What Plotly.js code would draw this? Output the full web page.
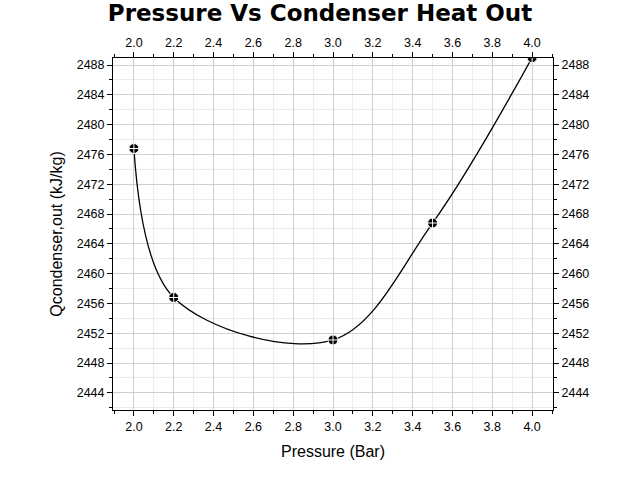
<!DOCTYPE html>
<html>
<head>
<script src="https://cdn.plot.ly/plotly-3.0.1.min.js"></script>
<style>body{margin:0}</style>
</head>
<body>
<div id="chart" style="width:640px;height:490px"></div>
<script>
const pressure = [2.0, 2.2, 3.0, 3.5, 4.0];
const heatOut = [2476.8, 2456.8, 2451.1, 2466.8, 2489.0];

const font = { family: 'Liberation Sans, Arial, sans-serif', color: '#000' };
const axisBase = {
    showline: true, linecolor: '#000', linewidth: 1,
    ticks: 'outside', ticklen: 5, tickcolor: '#000',
    showgrid: true, gridcolor: '#cfcfcf', zeroline: false,
    tickfont: { size: 12.5 },
    minor: { ticks: 'outside', ticklen: 3, tickcolor: '#000', showgrid: true, gridcolor: '#ececec' },
};
const xr = [1.895, 4.105], yr = [2441.7, 2488.95];

Plotly.newPlot('chart', [
    {
        x: pressure, y: heatOut, type: 'scatter', mode: 'lines',
        line: { color: '#000', width: 1.3, shape: 'spline', smoothing: 1.0 },
        hoverinfo: 'skip',
    },
    {
        x: pressure, y: heatOut, type: 'scatter', mode: 'markers',
        marker: { symbol: 'circle-cross', size: 10, color: '#000', line: { color: '#fff', width: 1 } },
    },
    { x: pressure, y: heatOut, xaxis: 'x2', yaxis: 'y2', mode: 'markers', marker: { opacity: 0 }, hoverinfo: 'skip' },
], {
    width: 640, height: 490, showlegend: false, font: font,
    paper_bgcolor: '#fff', plot_bgcolor: '#fff',
    margin: { t: 58, r: 87, b: 80, l: 113 },
    title: { text: '<b>Pressure Vs Condenser Heat Out</b>', x: 0.5, y: 0.99, yanchor: 'top', font: { size: 23, family: 'DejaVu Sans, sans-serif' } },
    xaxis: Object.assign({}, axisBase, {
        range: xr, dtick: 0.2, tick0: 2.0, tickformat: '.1f',
        minor: Object.assign({}, axisBase.minor, { dtick: 0.1 }),
        title: { text: 'Pressure (Bar)', font: { size: 16 }, standoff: 12 },
    }),
    yaxis: Object.assign({}, axisBase, {
        range: yr, dtick: 4, tick0: 2444,
        minor: Object.assign({}, axisBase.minor, { dtick: 2 }),
        title: { text: 'Qcondenser,out (kJ/kg)', font: { size: 16 }, standoff: 10 },
    }),
    xaxis2: Object.assign({}, axisBase, {
        overlaying: 'x', side: 'top', range: xr, dtick: 0.2, tick0: 2.0, tickformat: '.1f', showgrid: false,
        minor: { ticks: 'outside', ticklen: 3, tickcolor: '#000', dtick: 0.1 }, anchor: 'y2',
    }),
    yaxis2: Object.assign({}, axisBase, {
        overlaying: 'y', side: 'right', range: yr, dtick: 4, tick0: 2444, showgrid: false,
        minor: { ticks: 'outside', ticklen: 3, tickcolor: '#000', dtick: 2 }, anchor: 'x2',
    }),
}, { displayModeBar: false });
</script>
</body>
</html>
